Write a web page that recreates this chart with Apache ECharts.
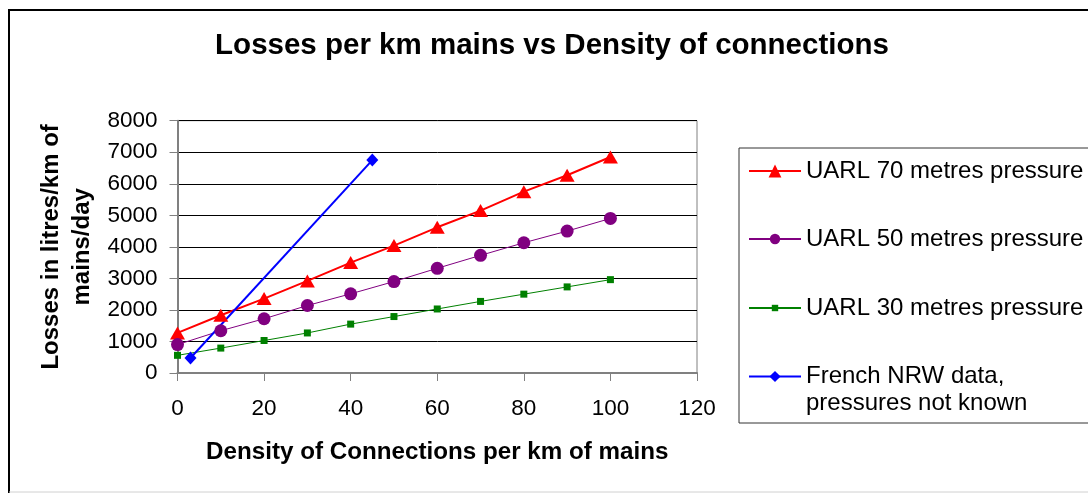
<!DOCTYPE html>
<html>
<head>
<meta charset="utf-8">
<script src="https://cdn.jsdelivr.net/npm/echarts@6/dist/echarts.min.js"></script>
<style>
  html, body { margin: 0; padding: 0; background: #fff; }
  #chart { width: 1088px; height: 493px; }
</style>
</head>
<body>
<div id="chart"></div>
<script>
// density of connections per km of mains
const density = [0, 10, 20, 30, 40, 50, 60, 70, 80, 90, 100];
// UARL losses in litres/km of mains/day
const uarl70 = [1270, 1830, 2360, 2920, 3500, 4040, 4620, 5150, 5750, 6270, 6850];
const uarl50 = [900, 1340, 1720, 2140, 2510, 2900, 3320, 3730, 4130, 4500, 4900];
const uarl30 = [560, 790, 1030, 1270, 1550, 1790, 2030, 2270, 2500, 2730, 2960];
// French NRW data
const frenchX = [3, 45];
const frenchY = [475, 6750];

const names = [
  "UARL 70 metres pressure",
  "UARL 50 metres pressure",
  "UARL 30 metres pressure",
  "French NRW data,\npressures not known"
];

const font = "'Liberation Sans', Arial, sans-serif";

const pairs = (xs, ys) => xs.map((x, i) => [x, ys[i]]);

const myChart = echarts.init(document.getElementById("chart"));

const legendBase = {
  orient: "vertical",
  left: 748,
  padding: 0,
  itemWidth: 52,
  selectedMode: false,
  textStyle: { fontFamily: font, fontSize: 24, color: "#000" }
};

const option = {
  animation: false,
  backgroundColor: "#fff",
  title: {
    text: "Losses per km mains vs Density of connections",
    left: 552,
    top: 31,
    padding: 0,
    textAlign: "center",
    textStyle: { fontFamily: font, fontSize: 29.5, fontWeight: "bold", color: "#000" }
  },
  graphic: [
    {
      type: "polyline",
      shape: { points: [[9, 493], [9, 10], [1090, 10]] },
      style: { stroke: "#000", lineWidth: 2, fill: null }
    },
    {
      type: "line",
      shape: { x1: 9, y1: 492, x2: 1090, y2: 492 },
      style: { stroke: "#d0d0d0", lineWidth: 1 }
    }
  ],
  legend: [
    Object.assign({}, legendBase, {
      top: 148,
      left: 739,
      padding: [11, 20, 240, 9],
      borderColor: "#333",
      borderWidth: 1,
      backgroundColor: "#fff",
      itemHeight: 16,
      data: [names[0]]
    }),
    Object.assign({}, legendBase, { top: 227, itemHeight: 13, data: [names[1]] }),
    Object.assign({}, legendBase, { top: 296, itemHeight: 8, data: [names[2]] }),
    Object.assign({}, legendBase, {
      top: 336,
      itemHeight: 14,
      // blank first line so the marker sits level with the first text line
      formatter: (n) => "\n" + n,
      textStyle: { fontFamily: font, fontSize: 24, color: "#000", lineHeight: 27 },
      data: [names[3]]
    })
  ],
  grid: {
    left: 177.5,
    right: 391,
    top: 120.7,
    bottom: 120,
    show: true,
    borderColor: "#808080",
    borderWidth: 1
  },
  xAxis: {
    type: "value",
    min: 0,
    max: 120,
    interval: 20,
    name: "Density of Connections per km of mains",
    nameLocation: "middle",
    nameGap: 67,
    nameTextStyle: { fontFamily: font, fontSize: 24.2, fontWeight: "bold", color: "#000" },
    axisLine: { show: true, lineStyle: { color: "#808080", width: 2 } },
    axisTick: { show: true, length: 8, lineStyle: { color: "#808080" } },
    axisLabel: { fontFamily: font, fontSize: 22.5, color: "#000", margin: 24 },
    splitLine: { show: false }
  },
  yAxis: {
    type: "value",
    min: 0,
    max: 8000,
    interval: 1000,
    name: "Losses in litres/km of\nmains/day",
    nameLocation: "middle",
    nameGap: 80,
    nameTextStyle: { fontFamily: font, fontSize: 24, fontWeight: "bold", color: "#000", lineHeight: 31 },
    axisLine: { show: true, lineStyle: { color: "#808080", width: 2 } },
    axisTick: { show: true, length: 8, lineStyle: { color: "#808080" } },
    axisLabel: { fontFamily: font, fontSize: 22.5, color: "#000", margin: 20, formatter: (v) => String(v) },
    splitLine: { show: true, lineStyle: { color: "#000", width: 1 } }
  },
  series: [
    {
      name: names[0],
      type: "line",
      data: pairs(density, uarl70),
      symbol: "triangle",
      symbolSize: [15, 13],
      lineStyle: { color: "#ff0000", width: 2 },
      itemStyle: { color: "#ff0000" }
    },
    {
      name: names[1],
      type: "line",
      data: pairs(density, uarl50),
      symbol: "circle",
      symbolSize: 13,
      lineStyle: { color: "#800080", width: 1 },
      itemStyle: { color: "#800080" }
    },
    {
      name: names[2],
      type: "line",
      data: pairs(density, uarl30),
      symbol: "rect",
      symbolSize: 7,
      lineStyle: { color: "#008000", width: 1 },
      itemStyle: { color: "#008000" }
    },
    {
      name: names[3],
      type: "line",
      data: pairs(frenchX, frenchY),
      symbol: "diamond",
      symbolSize: [12, 13],
      lineStyle: { color: "#0000ff", width: 2 },
      itemStyle: { color: "#0000ff" }
    }
  ]
};

myChart.setOption(option);
</script>
</body>
</html>
